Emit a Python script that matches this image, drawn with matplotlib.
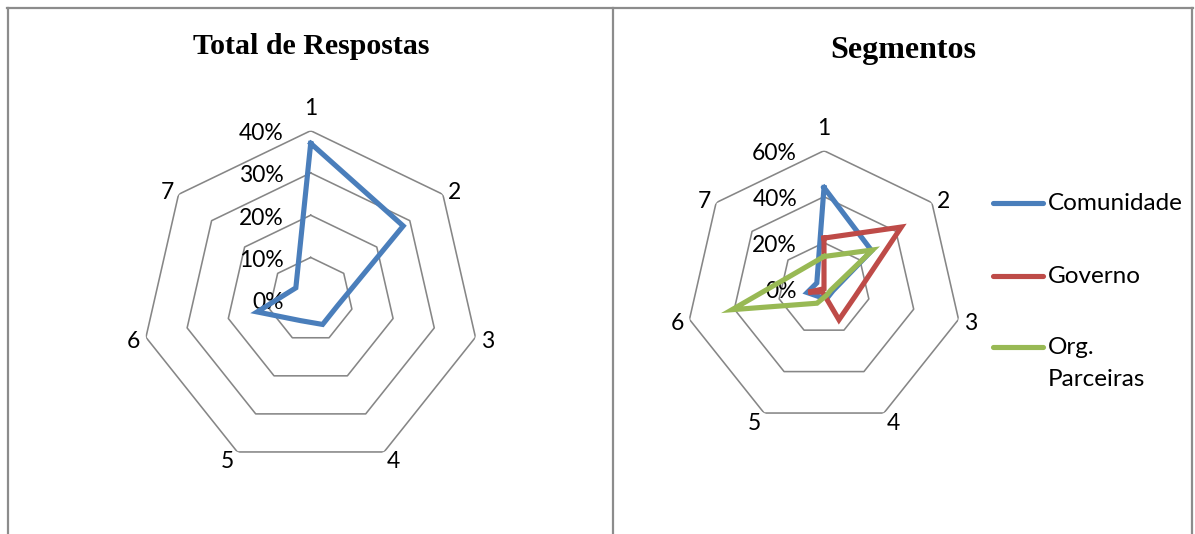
import textwrap
import numpy as np
import matplotlib
matplotlib.use("Agg")
import matplotlib.pyplot as plt
from matplotlib.lines import Line2D

# ---- data -----------------------------------------------------------------
categories = ["1", "2", "3", "4", "5", "6", "7"]

total_values = [0.37, 0.28, 0.065, 0.065, 0.055, 0.13, 0.045]
total_ticks = [0.0, 0.10, 0.20, 0.30, 0.40]

segment_names = ["Comunidade", "Governo", "Org. Parceiras"]
comunidade = [0.44, 0.265, 0.04, 0.04, 0.04, 0.075, 0.04]
governo = [0.22, 0.43, 0.14, 0.15, 0.015, 0.07, 0.0]
org_parceiras = [0.14, 0.27, 0.03, 0.03, 0.07, 0.41, 0.13]
segment_ticks = [0.0, 0.20, 0.40, 0.60]

# ---- style ----------------------------------------------------------------
W, H, DPI = 1195, 534, 100
BLUE, RED, GREEN = "#4A7EBB", "#BE4B48", "#98B954"
GRID = "#868686"
BORDER = "#8C8C8C"
LABEL_FONT = "Lato"
TITLE_FONT = "Liberation Serif"
LABEL_SIZE = 16.5
DATA_LW = 3.7

fig = plt.figure(figsize=(W / DPI, H / DPI), dpi=DPI)
fig.patch.set_facecolor("white")


def fx(x):
    return x / W


def fy(y):
    return 1 - y / H


def radar_axes(cx, cy, R):
    ax = fig.add_axes([fx(cx - R), fy(cy + R), 2 * R / W, 2 * R / H],
                      projection="polar")
    ax.set_theta_offset(np.pi / 2)
    ax.set_theta_direction(-1)
    ax.grid(False)
    ax.spines["polar"].set_visible(False)
    ax.set_xticks([])
    ax.set_yticks([])
    ax.patch.set_alpha(0)
    return ax


def label_offset(theta):
    s, c = np.sin(theta), np.cos(theta)
    sg = np.sign(s) if abs(s) > 0.1 else 0.0
    if c > 0.9:
        return 0.0, 22.0
    if c > 0.5:
        return 11.5 * sg, 1.5
    if c > -0.5:
        return 12.5 * sg, -4.0
    return 9.5 * sg, -10.0


def draw_radar(ax, ticks, series, colors):
    n = len(categories)
    theta = np.arange(n) * 2 * np.pi / n
    closed = np.append(theta, theta[0])
    rmax = ticks[-1]
    ax.set_ylim(0, rmax)
    # heptagon rings
    for t in ticks[1:]:
        ax.plot(closed, [t] * (n + 1), color=GRID, lw=1.15, zorder=1)
    # ring labels
    for t in ticks:
        ax.annotate(f"{t:.0%}", xy=(0, t), xytext=(-27, -3),
                    textcoords="offset pixels", ha="right", va="center",
                    fontsize=LABEL_SIZE, family=LABEL_FONT, color="black",
                    annotation_clip=False, zorder=2)
    # category labels
    for th, name in zip(theta, categories):
        dx, dy = label_offset(th)
        ax.annotate(name, xy=(th, rmax), xytext=(dx, dy),
                    textcoords="offset pixels", ha="center", va="center",
                    fontsize=LABEL_SIZE, family=LABEL_FONT, color="black",
                    annotation_clip=False)
    # data
    for vals, col in zip(series, colors):
        v = np.append(vals, vals[0])
        ax.plot(closed, v, color=col, lw=DATA_LW, solid_joinstyle="miter",
                zorder=3, clip_on=False)


# left panel
ax1 = radar_axes(310.7, 299.7, 169)
draw_radar(ax1, total_ticks, [total_values], [BLUE])
fig.text(fx(311), fy(54), "Total de Respostas", ha="center", va="baseline",
         fontsize=21.5, fontweight="bold", family=TITLE_FONT)

# right panel
ax2 = radar_axes(824, 288.7, 138)
seg_series = [comunidade, governo, org_parceiras]
seg_colors = [BLUE, RED, GREEN]
draw_radar(ax2, segment_ticks, seg_series, seg_colors)
fig.text(fx(903), fy(58), "Segmentos", ha="center", va="baseline",
         fontsize=23, fontweight="bold", family=TITLE_FONT)

# legend
legend_y = [203, 276, 347]
for name, col, y in zip(segment_names, seg_colors, legend_y):
    fig.add_artist(Line2D([fx(993), fx(1043)], [fy(y), fy(y)], color=col,
                          lw=DATA_LW, solid_capstyle="round"))
    label = textwrap.fill(name, 10)
    fig.text(fx(1048), fy(y - 10), label, ha="left", va="top",
             fontsize=17.5, family=LABEL_FONT, linespacing=1.65)

# table borders
for seg in [((7, 8), (1193, 8)), ((8, 8), (8, 534)),
            ((613, 8), (613, 534)), ((1192, 8), (1192, 534))]:
    (x0, y0), (x1, y1) = seg
    fig.add_artist(Line2D([fx(x0), fx(x1)], [fy(y0), fy(y1)],
                          color=BORDER, lw=1.6))

fig.savefig("out.png", dpi=DPI)
